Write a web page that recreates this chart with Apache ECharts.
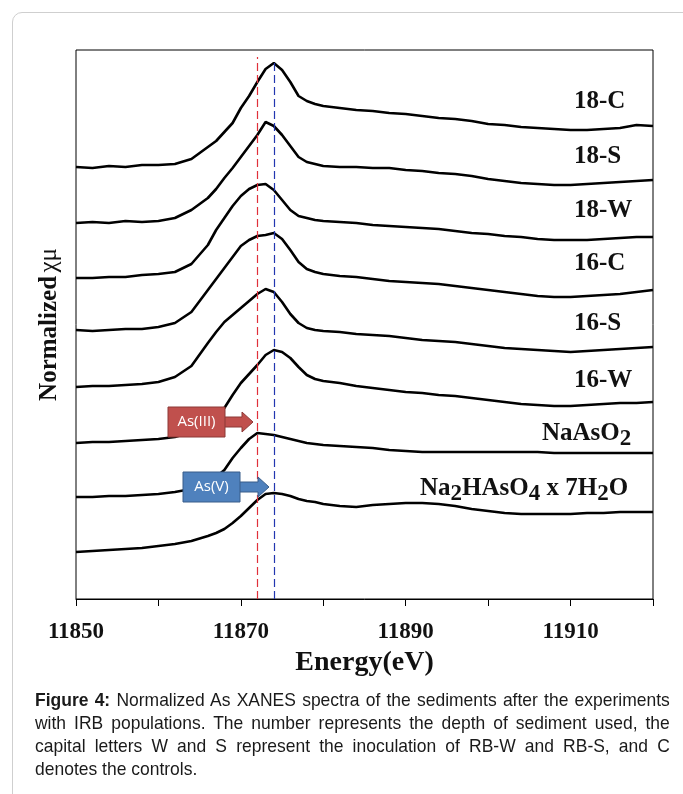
<!DOCTYPE html>
<html>
<head>
<meta charset="utf-8">
<script src="https://cdn.jsdelivr.net/npm/echarts@6/dist/echarts.min.js"></script>
<style>
  html, body { margin: 0; padding: 0; background: #fff; }
  body { width: 683px; height: 794px; position: relative; overflow: hidden; }
  .card {
    position: absolute; left: 12px; top: 12px; width: 720px; height: 820px;
    border: 1px solid #cfcfcf; border-radius: 10px;
  }
  #chart { position: absolute; left: 0; top: 0; width: 683px; height: 690px; }
  .caption {
    position: absolute; left: 35px; top: 688px; width: 690px;
    transform: scaleX(0.92); transform-origin: 0 0;
    font-family: "Liberation Sans", Arial, sans-serif;
    font-size: 19px; line-height: 23px; color: #1a1a1a;
  }
  .caption div { text-align: justify; text-align-last: justify; }
  .caption div.last { text-align-last: left; }
</style>
</head>
<body>
<div class="card"></div>
<div id="chart"></div>
<div class="caption">
  <div><b>Figure 4:</b> Normalized As XANES spectra of the sediments after the experiments</div>
  <div>with IRB populations. The number represents the depth of sediment used, the</div>
  <div>capital letters W and S represent the inoculation of RB-W and RB-S, and C</div>
  <div class="last">denotes the controls.</div>
</div>
<script>
// energy grid (eV) shared by all spectra
const energy = [11850, 11852, 11854, 11856, 11858, 11860, 11862, 11864, 11866, 11867, 11868,
  11869, 11870, 11871, 11872, 11873, 11874, 11875, 11876, 11877, 11878, 11879, 11880, 11882,
  11884, 11886, 11888, 11890, 11892, 11894, 11896, 11898, 11900, 11902, 11904, 11906, 11908,
  11910, 11912, 11914, 11916, 11918, 11920];

// stacked, offset spectra (arbitrary units)
const s18C = [4.32, 4.31, 4.33, 4.32, 4.34, 4.34, 4.35, 4.40, 4.52, 4.58, 4.67, 4.76, 4.91, 5.03,
  5.17, 5.30, 5.36, 5.29, 5.17, 5.03, 4.98, 4.95, 4.93, 4.91, 4.89, 4.88, 4.86, 4.85, 4.83, 4.81,
  4.80, 4.78, 4.75, 4.74, 4.72, 4.71, 4.70, 4.69, 4.69, 4.70, 4.71, 4.74, 4.73];
const s18S = [3.76, 3.77, 3.76, 3.78, 3.77, 3.78, 3.81, 3.89, 4.01, 4.10, 4.21, 4.31, 4.42, 4.53,
  4.64, 4.77, 4.73, 4.64, 4.53, 4.42, 4.37, 4.35, 4.33, 4.32, 4.32, 4.31, 4.31, 4.29, 4.28, 4.26,
  4.25, 4.23, 4.20, 4.18, 4.16, 4.15, 4.14, 4.14, 4.15, 4.16, 4.17, 4.18, 4.19];
const s18W = [3.21, 3.21, 3.22, 3.22, 3.24, 3.25, 3.27, 3.35, 3.54, 3.69, 3.81, 3.93, 4.03, 4.10,
  4.14, 4.15, 4.09, 3.99, 3.89, 3.83, 3.81, 3.79, 3.78, 3.77, 3.76, 3.74, 3.73, 3.72, 3.71, 3.70,
  3.68, 3.66, 3.65, 3.63, 3.62, 3.60, 3.59, 3.59, 3.59, 3.60, 3.61, 3.62, 3.62];
const s16C = [2.69, 2.68, 2.69, 2.70, 2.70, 2.72, 2.76, 2.87, 3.09, 3.20, 3.31, 3.42, 3.53, 3.59,
  3.63, 3.64, 3.66, 3.60, 3.49, 3.37, 3.30, 3.27, 3.25, 3.23, 3.22, 3.20, 3.18, 3.17, 3.16, 3.15,
  3.13, 3.11, 3.09, 3.07, 3.05, 3.03, 3.02, 3.02, 3.03, 3.04, 3.05, 3.07, 3.09];
const s16S = [2.12, 2.13, 2.13, 2.14, 2.15, 2.17, 2.22, 2.33, 2.56, 2.67, 2.77, 2.84, 2.91, 2.98,
  3.05, 3.10, 3.07, 2.97, 2.85, 2.76, 2.71, 2.69, 2.68, 2.67, 2.65, 2.64, 2.63, 2.61, 2.59, 2.58,
  2.57, 2.55, 2.53, 2.51, 2.50, 2.49, 2.48, 2.47, 2.48, 2.49, 2.50, 2.51, 2.52];
const s16W = [1.56, 1.57, 1.57, 1.58, 1.59, 1.60, 1.62, 1.67, 1.77, 1.84, 1.91, 2.04, 2.16, 2.25,
  2.34, 2.44, 2.49, 2.47, 2.41, 2.32, 2.24, 2.20, 2.18, 2.16, 2.13, 2.11, 2.09, 2.07, 2.06, 2.04,
  2.03, 2.01, 1.99, 1.97, 1.95, 1.94, 1.93, 1.93, 1.94, 1.95, 1.96, 1.96, 1.97];
const sNaAsO2 = [1.02, 1.02, 1.03, 1.03, 1.04, 1.05, 1.07, 1.10, 1.17, 1.22, 1.29, 1.41, 1.51, 1.60,
  1.66, 1.65, 1.64, 1.62, 1.60, 1.58, 1.56, 1.55, 1.54, 1.53, 1.52, 1.51, 1.49, 1.48, 1.47, 1.47,
  1.47, 1.47, 1.47, 1.47, 1.47, 1.47, 1.46, 1.46, 1.46, 1.46, 1.46, 1.46, 1.46];
const sNa2HAsO4 = [0.47, 0.48, 0.49, 0.50, 0.51, 0.53, 0.55, 0.58, 0.63, 0.66, 0.70, 0.76, 0.83, 0.91,
  0.99, 1.05, 1.06, 1.05, 1.03, 1.00, 0.98, 0.97, 0.95, 0.93, 0.92, 0.94, 0.95, 0.96, 0.96, 0.95,
  0.93, 0.90, 0.88, 0.86, 0.85, 0.85, 0.85, 0.85, 0.86, 0.86, 0.87, 0.87, 0.87];

const curveNames = ['18-C', '18-S', '18-W', '16-C', '16-S', '16-W', 'NaAsO2', 'Na2HAsO4 x 7H2O'];
const curves = [s18C, s18S, s18W, s16C, s16S, s16W, sNaAsO2, sNa2HAsO4];

const xLabelTicks = [11850, 11870, 11890, 11910];
const edgeAs3 = 11872; // red dashed reference
const edgeAs5 = 11874; // blue dashed reference

const serif = '"Liberation Serif", "Times New Roman", serif';
const chart = echarts.init(document.getElementById('chart'));

const series = curves.map((vals, i) => ({
  name: curveNames[i],
  type: 'line',
  showSymbol: false,
  silent: true,
  data: vals.map((v, j) => [energy[j], v]),
  lineStyle: { color: '#000', width: 2.6 },
  z: 3
}));

// dashed edge markers, one helper series each so each gets its own colour
const edgeMarker = (e, top, color) => ({
  type: 'line', data: [], silent: true, z: 2,
  markLine: {
    silent: true, symbol: 'none', label: { show: false },
    lineStyle: { color, type: [8, 4], width: 1.2 },
    data: [[{ coord: [e, 0] }, { coord: [e, top] }]]
  }
});
series.push(edgeMarker(edgeAs3, 5.42, '#e0303a'), edgeMarker(edgeAs5, 5.39, '#2236b0'));

// sample labels at the right side of the plot
const sideLabel = (text, x, y) => ({
  type: 'text', z: 30, x, y,
  style: {
    text,
    verticalAlign: 'middle',
    fill: '#111',
    rich: {
      m: { font: 'bold 25px ' + serif, lineHeight: 34, fill: '#111' },
      s: { font: 'bold 23px ' + serif, lineHeight: 22, verticalAlign: 'bottom', fill: '#111' }
    }
  }
});

// coloured tag with arrow pointing at the edge position
function tag(x, y, w, h, tip, text, fill, stroke) {
  const cy = y + h / 2;
  return [
    { type: 'polygon', z: 40,
      shape: { points: [[x + w - 1, cy - 5], [tip - 11, cy - 5], [tip - 11, cy - 10], [tip, cy],
        [tip - 11, cy + 10], [tip - 11, cy + 5], [x + w - 1, cy + 5]] },
      style: { fill, stroke, lineWidth: 1 } },
    { type: 'rect', z: 41, shape: { x, y, width: w, height: h },
      style: { fill, stroke, lineWidth: 1 } },
    { type: 'text', z: 42, x: x + w / 2, y: cy,
      style: { text, fill: '#fff', font: '15px "Open Sans", "Liberation Sans", sans-serif',
        align: 'center', verticalAlign: 'middle' } }
  ];
}

chart.setOption({
  animation: false,
  grid: { left: 76, right: 30, top: 50, bottom: 91, show: true, borderColor: '#000', borderWidth: 1 },
  xAxis: {
    type: 'value', min: 11850, max: 11920, interval: 10,
    axisLine: { lineStyle: { color: '#000', width: 1 } },
    axisTick: { length: 7, lineStyle: { color: '#000' } },
    splitLine: { show: false },
    axisLabel: {
      margin: 22, color: '#111', fontFamily: serif, fontWeight: 'bold', fontSize: 23,
      formatter: v => (xLabelTicks.includes(v) ? String(v) : '')
    },
    name: 'Energy(eV)', nameLocation: 'middle', nameGap: 49,
    nameTextStyle: { color: '#111', fontFamily: serif, fontWeight: 'bold', fontSize: 28 }
  },
  yAxis: {
    type: 'value', min: 0, max: 5.49,
    axisLine: { show: false }, axisTick: { show: false }, axisLabel: { show: false },
    splitLine: { show: false },
    name: '{a|Normalized} {b|χμ}', nameLocation: 'middle', nameGap: 14, nameRotate: 90,
    nameTextStyle: {
      rich: {
        a: { fontFamily: serif, fontWeight: 'bold', fontSize: 25, color: '#111' },
        b: { fontFamily: serif, fontSize: 25, color: '#111' }
      }
    }
  },
  series,
  graphic: [
    sideLabel('{m|18-C}', 574, 102),
    sideLabel('{m|18-S}', 574, 157),
    sideLabel('{m|18-W}', 574, 211),
    sideLabel('{m|16-C}', 574, 264),
    sideLabel('{m|16-S}', 574, 324),
    sideLabel('{m|16-W}', 574, 381),
    sideLabel('{m|NaAsO}{s|2}', 542, 434),
    sideLabel('{m|Na}{s|2}{m|HAsO}{s|4}{m| x 7H}{s|2}{m|O}', 420, 489),
    ...tag(168, 407, 57, 30, 253, 'As(III)', '#c0504d', '#8c3836'),
    ...tag(183, 472, 57, 30, 269, 'As(V)', '#4f81bd', '#385d8a')
  ]
});
</script>
</body>
</html>
